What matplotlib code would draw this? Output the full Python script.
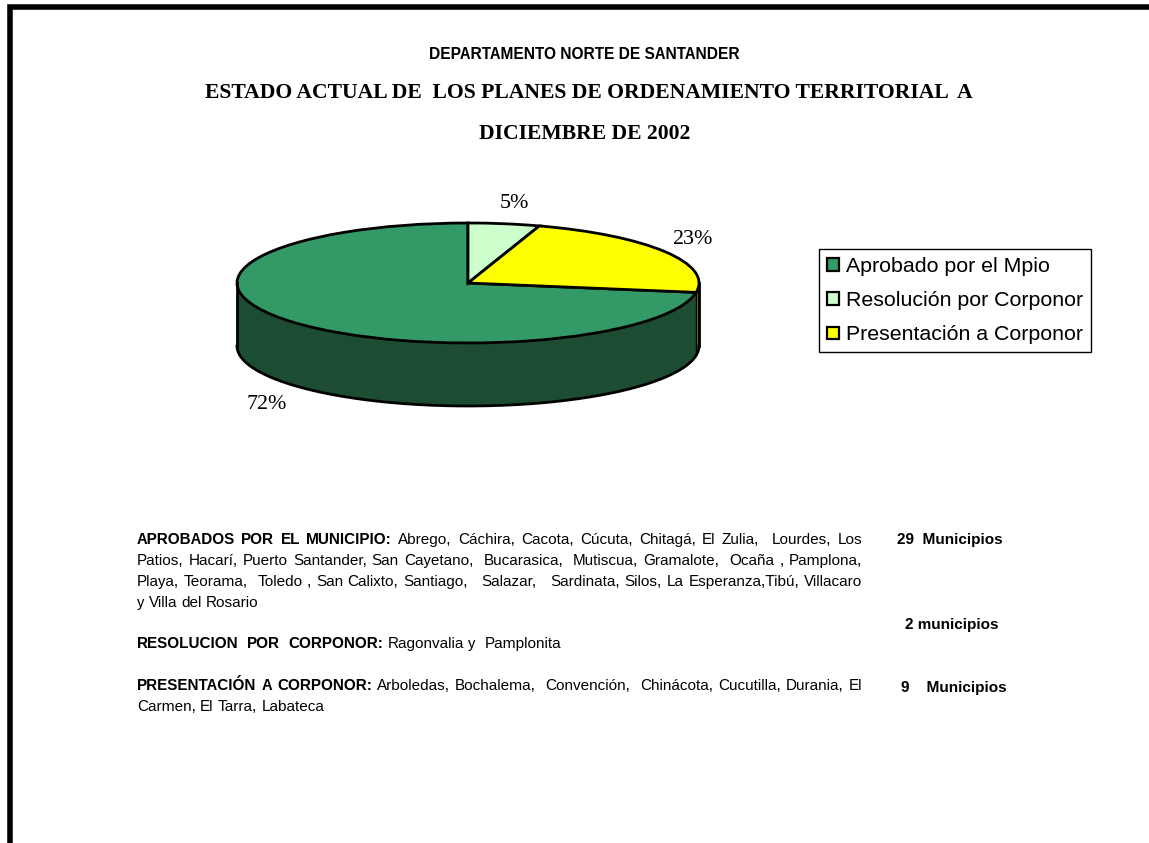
import numpy as np
import matplotlib
matplotlib.use("Agg")
import matplotlib.pyplot as plt
from matplotlib.patches import Patch

plt.rcParams["text.hinting"] = "no_autohint"

W, H = 1149, 843

# Data
categories = ["Aprobado por el Mpio", "Resolución por Corponor", "Presentación a Corponor"]
municipios = [29, 2, 9]
pct_labels = ["72%", "5%", "23%"]
top_colors = ["#339966", "#CCFFCC", "#FFFF00"]
side_colors = ["#1C4D33", "#667F66", "#7F7F00"]

lines = [
    ("APROBADOS POR EL MUNICIPIO:", "Abrego, Cáchira, Cacota, Cúcuta, Chitagá, El Zulia,  Lourdes, Los", 544, True),
    ("", "Patios, Hacarí, Puerto Santander, San Cayetano,  Bucarasica,  Mutiscua, Gramalote,  Ocaña , Pamplona,", 565, True),
    ("", "Playa, Teorama,  Toledo , San Calixto, Santiago,   Salazar,   Sardinata, Silos, La Esperanza,Tibú, Villacaro", 586, True),
    ("", "y Villa del Rosario", 607, False),
    ("RESOLUCION  POR  CORPONOR:", "Ragonvalia y  Pamplonita", 648, False),
    ("PRESENTACIÓN A CORPONOR:", "Arboledas, Bochalema,  Convención,  Chinácota, Cucutilla, Durania, El", 690, True),
    ("", "Carmen, El Tarra, Labateca", 711, False),
]
counts = [("29  Municipios", 949.5, 544), ("2 municipios", 951.5, 629), ("9    Municipios", 953.5, 692)]

fig = plt.figure(figsize=(W / 100, H / 100), dpi=100, facecolor="white")

# overlay in pixel coordinates for the page text
page = fig.add_axes([0, 0, 1, 1])
page.set_xlim(0, W)
page.set_ylim(H, 0)
page.axis("off")

# page border
page.plot([9.8, 9.8, W + 5], [H + 5, 7.3, 7.3], color="black", lw=4, solid_joinstyle="miter")

sans = "Liberation Sans"
serif = "Liberation Serif"
page.text(584.5, 59, "DEPARTAMENTO NORTE DE SANTANDER", family=sans, weight="bold", fontsize=11.2,
          ha="center", va="baseline")
page.text(588.5, 98, "ESTADO ACTUAL DE  LOS PLANES DE ORDENAMIENTO TERRITORIAL  A", family=serif, weight="bold",
          fontsize=15.6, ha="center", va="baseline")
page.text(584.5, 139, "DICIEMBRE DE 2002", family=serif, weight="bold", fontsize=15.6, ha="center", va="baseline")

# pie, squashed into an ellipse by its axes
cx, cy, rx, ry, depth = 468, 283, 231, 60, 63
pie = fig.add_axes([(cx - rx) / W, (H - cy - ry) / H, 2 * rx / W, 2 * ry / H])
total = sum(municipios)
start = 90 - 360 * (municipios[1] + municipios[2]) / total
d = depth / ry

# wall of the cylinder, front half only
split = np.cos(np.radians(start))
theta = np.radians(np.linspace(180, 360, 721))
x_arc, y_arc = np.cos(theta), np.sin(theta)
is_green = x_arc <= split
pie.fill_between(x_arc[is_green], y_arc[is_green], y_arc[is_green] - d,
                 color=side_colors[0], lw=0, clip_on=False)
pie.fill_between(x_arc[~is_green], y_arc[~is_green], y_arc[~is_green] - d,
                 color=side_colors[2], lw=0, clip_on=False)
pie.plot(x_arc, y_arc - d, color="black", lw=2, clip_on=False)
pie.plot([-1, -1], [0, -d], color="black", lw=2, clip_on=False)
pie.plot([1, 1], [0, -d], color="black", lw=2, clip_on=False)
y_split = -np.sqrt(1 - split ** 2)
pie.plot([split, split], [y_split, y_split - d], color="black", lw=1, clip_on=False)

wedges, _ = pie.pie(municipios, colors=top_colors, startangle=start, counterclock=False, radius=1,
                    wedgeprops=dict(edgecolor="black", linewidth=2, clip_on=False))
pie.set_aspect("auto")
pie.set_xlim(-1, 1)
pie.set_ylim(-1, 1)
pie.patch.set_alpha(0)

# percentage labels
label_pos = [(267, 409), (514, 208), (692, 244)]
for txt, (lx, ly) in zip(pct_labels, label_pos):
    page.text(lx, ly, txt, family=serif, fontsize=15.8, ha="center", va="baseline")

# legend
handles = [Patch(facecolor=c, edgecolor="black", linewidth=1.6) for c in top_colors]
leg = page.legend(handles, categories, loc="upper left", bbox_to_anchor=(819 / W, 1 - 249 / H),
                  bbox_transform=fig.transFigure, borderaxespad=0, prop=dict(family=sans, size=15.3),
                  frameon=True, fancybox=False, edgecolor="black", framealpha=1, handlelength=0.55,
                  handleheight=0.55, handletextpad=0.33, labelspacing=0.72, borderpad=0.37)
leg.get_frame().set_linewidth(1)

# justified body text
fig.canvas.draw()
rend = fig.canvas.get_renderer()
body_size = 11


def width(s, weight):
    t = page.text(0, 0, s, family=sans, fontsize=body_size, weight=weight)
    w = t.get_window_extent(rend).width
    t.remove()
    return w


left, right = 137, 862
space = width("a a", "normal") - width("aa", "normal")
for bold, reg, y, justify in lines:
    words = [(w, "bold") for w in bold.split(" ") if bold] + [(w, "normal") for w in reg.split(" ")]
    n_gap = len(words) - 1
    natural = sum(width(w, k) if w else 0 for w, k in words)
    gap = (right - left - natural) / n_gap if justify else space
    x = left
    for w, k in words:
        if w:
            page.text(x, y, w, family=sans, fontsize=body_size, weight=k, ha="left", va="baseline")
            x += width(w, k)
        x += gap

for txt, x, y in counts:
    page.text(x, y, txt, family=sans, fontsize=body_size, weight="bold", ha="center", va="baseline")

fig.savefig("out.png", dpi=100)
